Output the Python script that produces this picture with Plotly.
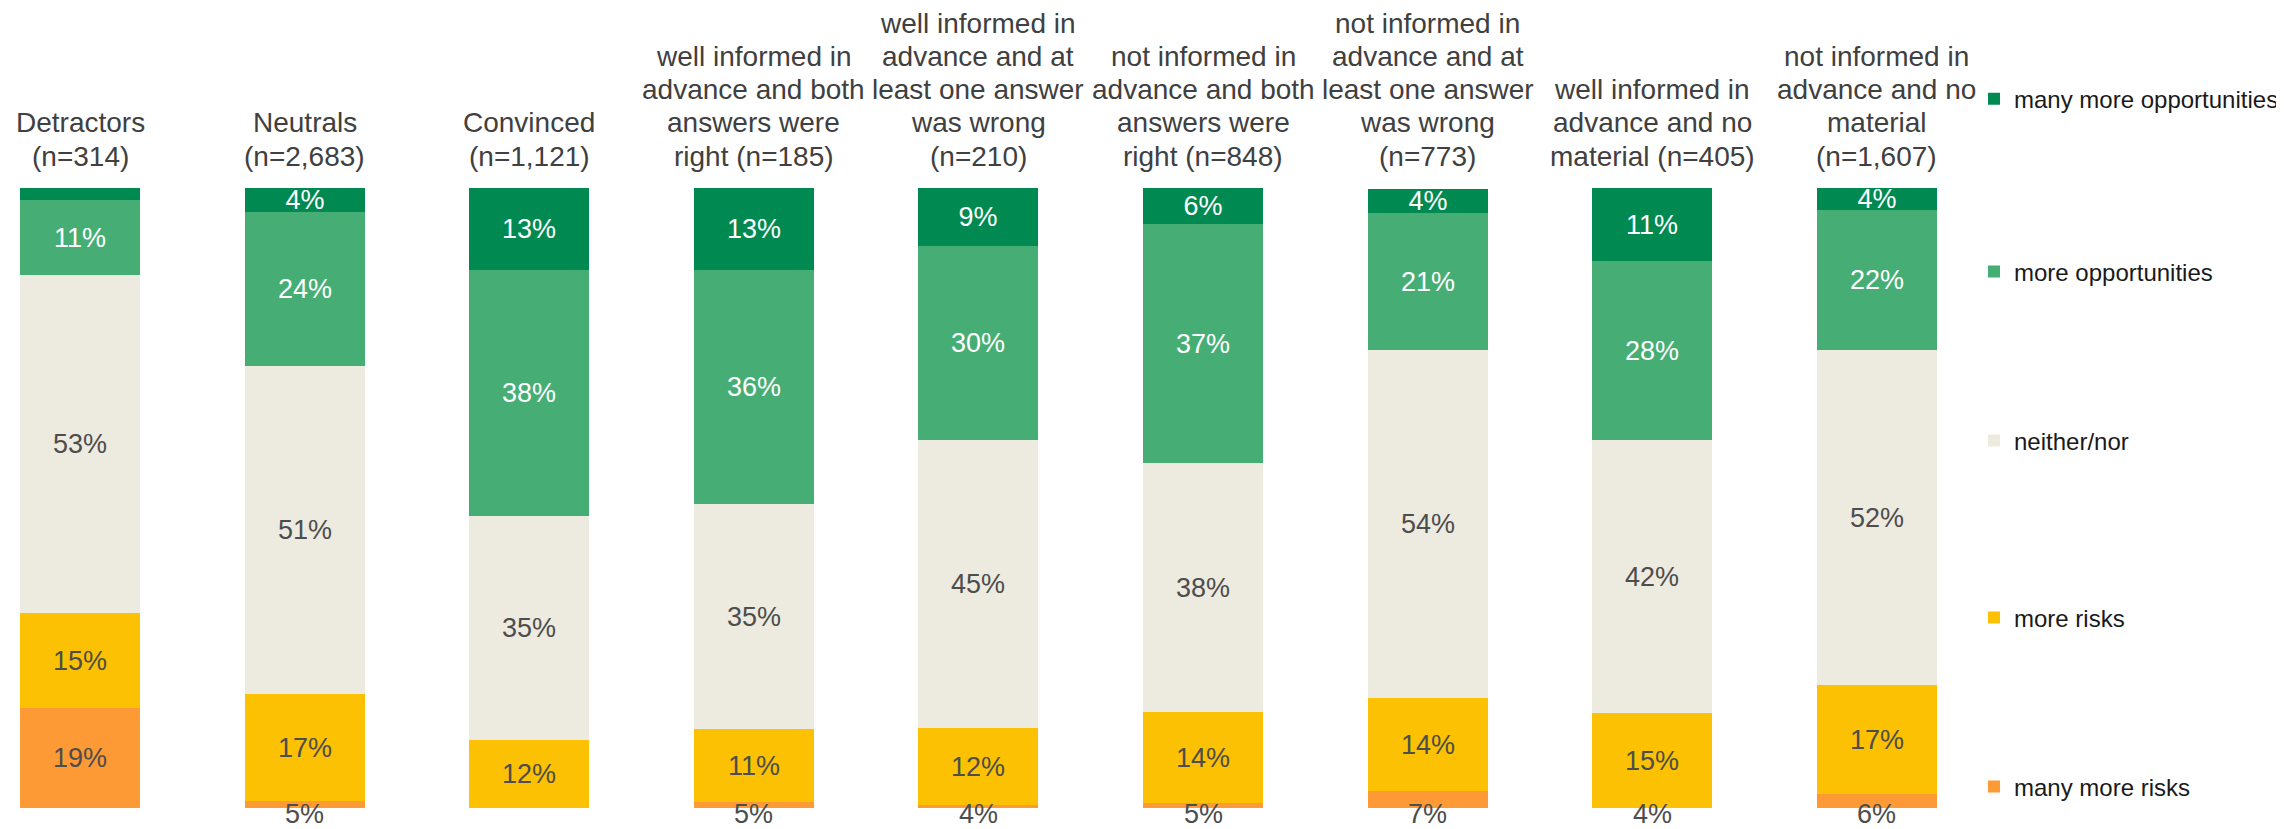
import plotly.graph_objects as go

categories = ["Detractors", "Neutrals", "Convinced", "wi_right", "wi_wrong",
              "ni_right", "ni_wrong", "wi_nomat", "ni_nomat"]
headers = [
    "Detractors<br>(n=314)",
    "Neutrals<br>(n=2,683)",
    "Convinced<br>(n=1,121)",
    "well informed in<br>advance and both<br>answers were<br>right (n=185)",
    "well informed in<br>advance and at<br>least one answer<br>was wrong<br>(n=210)",
    "not informed in<br>advance and both<br>answers were<br>right (n=848)",
    "not informed in<br>advance and at<br>least one answer<br>was wrong<br>(n=773)",
    "well informed in<br>advance and no<br>material (n=405)",
    "not informed in<br>advance and no<br>material<br>(n=1,607)",
]

series_names = ["many more risks", "more risks", "neither/nor",
                "more opportunities", "many more opportunities"]

# drawn segment shares (%)
many_more_risks = [16.2, 1.2, 0.0, 1.0, 0.5, 0.8, 2.7, 0.0, 2.3]
more_risks = [15.2, 17.2, 11.0, 11.8, 12.4, 14.7, 15.0, 15.3, 17.6]
neither_nor = [54.6, 52.9, 36.1, 36.3, 46.5, 40.2, 56.1, 44.0, 53.9]
more_opps = [12.1, 24.8, 39.7, 37.6, 31.3, 38.5, 22.1, 28.9, 22.6]
many_more_opps = [1.9, 3.9, 13.2, 13.4, 9.4, 5.8, 3.9, 11.8, 3.7]

# printed labels
lbl_many_more_risks = ["19%", "5%", "", "5%", "4%", "5%", "7%", "4%", "6%"]
lbl_more_risks = ["15%", "17%", "12%", "11%", "12%", "14%", "14%", "15%", "17%"]
lbl_neither_nor = ["53%", "51%", "35%", "35%", "45%", "38%", "54%", "42%", "52%"]
lbl_more_opps = ["11%", "24%", "38%", "36%", "30%", "37%", "21%", "28%", "22%"]
lbl_many_more_opps = ["", "4%", "13%", "13%", "9%", "6%", "4%", "11%", "4%"]

colors = ["#FD9A35", "#FBC102", "#EDEBE0", "#46AE74", "#008A52"]
text_colors = ["#4d4d4d", "#4d4d4d", "#4d4d4d", "#ffffff", "#ffffff"]
values = [many_more_risks, more_risks, neither_nor, more_opps, many_more_opps]
labels = [lbl_many_more_risks, lbl_more_risks, lbl_neither_nor, lbl_more_opps, lbl_many_more_opps]

FONT = "Liberation Sans, Arial, Helvetica, sans-serif"
VAL_SIZE = 27
HEAD_SIZE = 28
LINE_GAP = 33.2
SMALL = 5.0  # segments below this show their label under the bar

fig = go.Figure()
legend_ids = ["legend5", "legend4", "legend3", "legend2", "legend"]
legend_y = [0.0339, 0.3065, 0.5919, 0.8645, 1.1435]
for i, name in enumerate(series_names):
    txt = labels[i]
    if i == 0:
        txt = [t if v >= SMALL else "" for t, v in zip(txt, values[i])]
    fig.add_trace(go.Bar(
        x=categories, y=values[i], name=name, marker_color=colors[i],
        marker_line_width=0, width=0.534,
        text=txt, textposition="inside", insidetextanchor="middle",
        textangle=0,
        insidetextfont=dict(family=FONT, size=VAL_SIZE, color=text_colors[i]),
        hoverinfo="skip", legend=legend_ids[i],
    ))

annotations = []
for c, h in zip(categories, headers):
    lines = h.split("<br>")
    for j, line in enumerate(reversed(lines)):
        annotations.append(dict(
            x=c, y=1, xref="x", yref="paper", text=line, showarrow=False,
            yanchor="middle", xanchor="center", yshift=32 + LINE_GAP * j,
            font=dict(family=FONT, size=HEAD_SIZE, color="#404040")))
for c, t, v in zip(categories, lbl_many_more_risks, many_more_risks):
    if t and v < SMALL:
        annotations.append(dict(
            x=c, y=0, xref="x", yref="y", text=t, showarrow=False,
            yanchor="middle", xanchor="center", yshift=-6,
            font=dict(family=FONT, size=VAL_SIZE, color="#4d4d4d")))

# page has an 8px body margin; figure is sized to fit inside the window
FIG_W, FIG_H = 2276, 821
W_PLOT = 1952
x0 = -72 / 224.6
x1 = x0 + W_PLOT / 224.6

layout_legends = {}
for lid, ly in zip(legend_ids, legend_y):
    layout_legends[lid] = dict(
        x=1966 / W_PLOT, xanchor="left", y=ly, yanchor="middle",
        font=dict(family=FONT, size=24, color="#1a1a1a"),
        bgcolor="rgba(0,0,0,0)", borderwidth=0)

fig.update_layout(
    width=FIG_W, height=FIG_H,
    barmode="stack", bargap=0,
    plot_bgcolor="white", paper_bgcolor="white",
    margin=dict(l=0, r=FIG_W - W_PLOT, t=180, b=21),
    xaxis=dict(range=[x0, x1], visible=False, type="category"),
    yaxis=dict(range=[0, 100], visible=False),
    annotations=annotations,
    uniformtext=dict(minsize=VAL_SIZE, mode="show"),
    showlegend=True,
    **layout_legends,
)

fig.write_html("out.html")
